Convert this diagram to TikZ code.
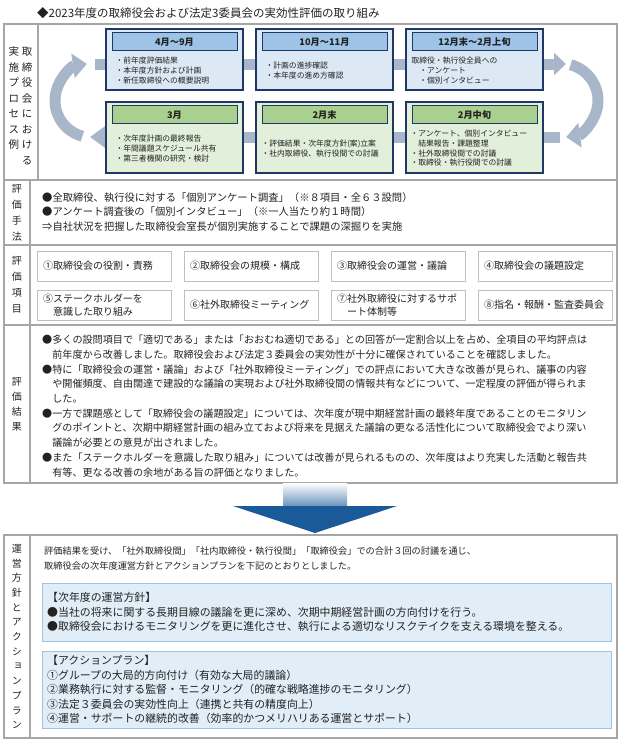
\documentclass[tikz,border=0pt]{standalone}
\usepackage{fontspec}
\setmainfont{Noto Sans CJK JP}
\usetikzlibrary{positioning}
\usetikzlibrary{arrows.meta}
\usetikzlibrary{calc}
\definecolor{framegray}{HTML}{A6A6A6}
\definecolor{bandcol}{HTML}{A7B6C9}
\definecolor{navy}{HTML}{1F3864}
\definecolor{headblue}{HTML}{9DC3E6}
\definecolor{bodyblue}{HTML}{DCE9F5}
\definecolor{headgreen}{HTML}{A9D08E}
\definecolor{bodygreen}{HTML}{E2EFDA}
\definecolor{itemgray}{HTML}{BFBFBF}
\definecolor{planfill}{HTML}{E1EEF8}
\definecolor{planline}{HTML}{9DC3E6}
\definecolor{arrowblue}{HTML}{1B5A99}
\definecolor{inkgray}{HTML}{222222}
\tikzset{frame/.style={draw=framegray, line width=1.1pt},
         band/.style={draw=bandcol, line width=11pt},
         stagebox/.style={draw=navy, line width=1.3pt, minimum width=137pt, inner sep=0pt},
         upbox/.style={stagebox, fill=bodyblue, minimum height=61pt},
         downbox/.style={stagebox, fill=bodygreen, minimum height=71pt},
         stagehead/.style={draw=navy, line width=1pt, minimum width=125pt, minimum height=18pt, inner sep=0pt, font=\fontsize{9.2}{10}\selectfont\bfseries},
         uphead/.style={stagehead, fill=headblue},
         downhead/.style={stagehead, fill=headgreen},
         stagetxt/.style={anchor=west, align=left, inner sep=0pt, font=\fontsize{7.8}{9.6}\selectfont},
         sidelbl/.style={align=center, inner sep=0pt, font=\fontsize{10}{16}\selectfont},
         bodytxt/.style={anchor=west, align=left, inner sep=0pt, font=\fontsize{10.3}{14.7}\selectfont},
         itembox/.style={draw=itemgray, fill=white, minimum width=134pt, minimum height=30pt, text width=122pt, align=left, inner sep=0pt, font=\fontsize{10}{12.5}\selectfont},
         planbox/.style={draw=planline, fill=planfill, line width=0.8pt, minimum width=569pt, inner sep=0pt}}

\begin{document}
\begin{tikzpicture}[x=1pt, y=-1pt, text=inkgray]
  \useasboundingbox (0,0) rectangle (620,742);
  \node[anchor=west, inner sep=0pt, font=\fontsize{11.5}{13}\selectfont] (title) at (37,13) {◆2023年度の取締役会および法定3委員会の実効性評価の取り組み};

  % table frame
  \draw[frame] (4,24) rectangle (617,483);
  \draw[frame] (4,180) -- (617,180);
  \draw[frame] (4,245) -- (617,245);
  \draw[frame] (4,325) -- (617,325);
  \draw[frame] (38,24) -- (38,180);
  \draw[frame] (30,180) -- (30,483);

  % process flow
  \coordinate (tA) at (95,64);
  \coordinate (tB) at (566,64);
  \coordinate (bA) at (560,137);
  \coordinate (bB) at (90,137);
  \coordinate (rc) at (561,100.5);
  \coordinate (lc) at (92,100.5);
  \draw[band, -{Triangle[width=22pt,length=12pt]}] (tA) -- (tB);
  \draw[band, -{Triangle[width=22pt,length=16pt]}] (bA) -- (bB);
  \draw[band, -{Triangle[width=24pt,length=14pt]}] ([shift={(-75:37)}]rc) arc[start angle=-75, end angle=82, radius=37];
  \draw[band, -{Triangle[width=24pt,length=14pt]}] ([shift={(105:37)}]lc) arc[start angle=105, end angle=262, radius=37];

  \node[upbox] (p1) at (174.5,59.5) {};
  \node[upbox] (p2) at (324.5,59.5) {};
  \node[upbox] (p3) at (474.5,59.5) {};
  \node[downbox] (q1) at (174.5,137.5) {};
  \node[downbox] (q2) at (324.5,137.5) {};
  \node[downbox] (q3) at (474.5,137.5) {};
  \node[uphead, below=4pt of p1.north] (hp1) {4月～9月};
  \node[uphead, below=4pt of p2.north] (hp2) {10月～11月};
  \node[uphead, below=4pt of p3.north] (hp3) {12月末～2月上旬};
  \node[downhead, below=4pt of q1.north] (hq1) {3月};
  \node[downhead, below=4pt of q2.north] (hq2) {2月末};
  \node[downhead, below=4pt of q3.north] (hq3) {2月中旬};
  \node[stagetxt] (tp1) at ([xshift=10pt,yshift=-11pt]p1.west) {・前年度評価結果\\・本年度方針および計画\\・新任取締役への概要説明};
  \node[stagetxt] (tp2) at ([xshift=10pt,yshift=-11pt]p2.west) {・計画の進捗確認\\・本年度の進め方確認};
  \node[stagetxt] (tp3) at ([xshift=6pt,yshift=-11pt]p3.west) {取締役・執行役全員への\\　・アンケート\\　・個別インタビュー};
  \node[stagetxt] (tq1) at ([xshift=10pt,yshift=-11pt]q1.west) {・次年度計画の最終報告\\・年間議題スケジュール共有\\・第三者機関の研究・検討};
  \node[stagetxt] (tq2) at ([xshift=6pt,yshift=-11pt]q2.west) {・評価結果・次年度方針(案)立案\\・社内取締役、執行役間での討議};
  \node[stagetxt] (tq3) at ([xshift=5pt,yshift=-11pt]q3.west) {・アンケート、個別インタビュー\\　結果報告・課題整理\\・社外取締役間での討議\\・取締役・執行役間での討議};

  % side labels
  \node[sidelbl, font=\fontsize{10.5}{15.5}\selectfont] (lab1a) at (27,106) {取\\締\\役\\会\\に\\お\\け\\る};
  \node[sidelbl, font=\fontsize{10.5}{15.5}\selectfont] (lab1b) at (14,98.2) {実\\施\\プ\\ロ\\セ\\ス\\例};
  \node[sidelbl] (lab2) at (17,212.5) {評\\価\\手\\法};
  \node[sidelbl] (lab3) at (17,285) {評\\価\\項\\目};
  \node[sidelbl, font=\fontsize{10}{15}\selectfont] (lab4) at (17,404) {評\\価\\結\\果};
  \node[sidelbl, font=\fontsize{10}{14.7}\selectfont\addfontfeatures{RawFeature=+vert}] (lab5) at (17,636.5) {運\\営\\方\\針\\と\\ア\\ク\\シ\\ョ\\ン\\プ\\ラ\\ン};

  % method
  \node[bodytxt] (m2) at (42,212) {●全取締役、執行役に対する「個別アンケート調査」（※８項目・全６３設問）\\●アンケート調査後の「個別インタビュー」（※一人当たり約１時間）\\⇒自社状況を把握した取締役会室長が個別実施することで課題の深掘りを実施};

  % items
  \node[itembox] (i1) at (104,266) {①取締役会の役割・責務};
  \node[itembox] (i2) at (251,266) {②取締役会の規模・構成};
  \node[itembox] (i3) at (398,266) {③取締役会の運営・議論};
  \node[itembox] (i4) at (545,266) {④取締役会の議題設定};
  \node[itembox] (i5) at (104,305) {⑤ステークホルダーを\\　意識した取り組み};
  \node[itembox] (i6) at (251,305) {⑥社外取締役ミーティング};
  \node[itembox] (i7) at (398,305) {⑦社外取締役に対するサポ\\　ート体制等};
  \node[itembox] (i8) at (545,305) {⑧指名・報酬・監査委員会};

  % results
  \node[bodytxt, font=\fontsize{10.1}{14.7}\selectfont] (m4) at (42,406) {●多くの設問項目で「適切である」または「おおむね適切である」との回答が一定割合以上を占め、全項目の平均評点は\\　前年度から改善しました。取締役会および法定３委員会の実効性が十分に確保されていることを確認しました。\\●特に「取締役会の運営・議論」および「社外取締役ミーティング」での評点において大きな改善が見られ、議事の内容\\　や開催頻度、自由闊達で建設的な議論の実現および社外取締役間の情報共有などについて、一定程度の評価が得られま\\　した。\\●一方で課題感として「取締役会の議題設定」については、次年度が現中期経営計画の最終年度であることのモニタリン\\　グのポイントと、次期中期経営計画の組み立ておよび将来を見据えた議論の更なる活性化について取締役会でより深い\\　議論が必要との意見が出されました。\\●また「ステークホルダーを意識した取り組み」については改善が見られるものの、次年度はより充実した活動と報告共\\　有等、更なる改善の余地がある旨の評価となりました。};

  % big arrow
  \coordinate (dA) at (315,483);
  \coordinate (dB) at (315,533);
  \shade[top color=white, bottom color=arrowblue!65] ($(dA)+(-32,0)$) rectangle ($(dA)+(32,23)$);
  \fill[arrowblue] ($(dA)+(-82,23)$) -- ($(dA)+(82,23)$) -- (dB) -- cycle;

  % policy
  \draw[frame] (4,535) rectangle (617,738);
  \draw[frame] (30,535) -- (30,738);
  \node[bodytxt, font=\fontsize{9.2}{15}\selectfont] (m5) at (44,558.5) {評価結果を受け、「社外取締役間」「社内取締役・執行役間」「取締役会」での合計３回の討議を通じ、\\取締役会の次年度運営方針とアクションプランを下記のとおりとしました。};
  \node[planbox, minimum height=58pt] (pl1) at (326.5,612) {};
  \node[planbox, minimum height=77pt] (pl2) at (326.5,689.5) {};
  \node[bodytxt, font=\fontsize{10.9}{14.7}\selectfont] (pt1) at (47,612) {【次年度の運営方針】\\●当社の将来に関する長期目線の議論を更に深め、次期中期経営計画の方向付けを行う。\\●取締役会におけるモニタリングを更に進化させ、執行による適切なリスクテイクを支える環境を整える。};
  \node[bodytxt, font=\fontsize{10.9}{14.5}\selectfont] (pt2) at (47,689.5) {【アクションプラン】\\①グループの大局的方向付け（有効な大局的議論）\\②業務執行に対する監督・モニタリング（的確な戦略進捗のモニタリング）\\③法定３委員会の実効性向上（連携と共有の精度向上）\\④運営・サポートの継続的改善（効率的かつメリハリある運営とサポート）};
\end{tikzpicture}
\end{document}
